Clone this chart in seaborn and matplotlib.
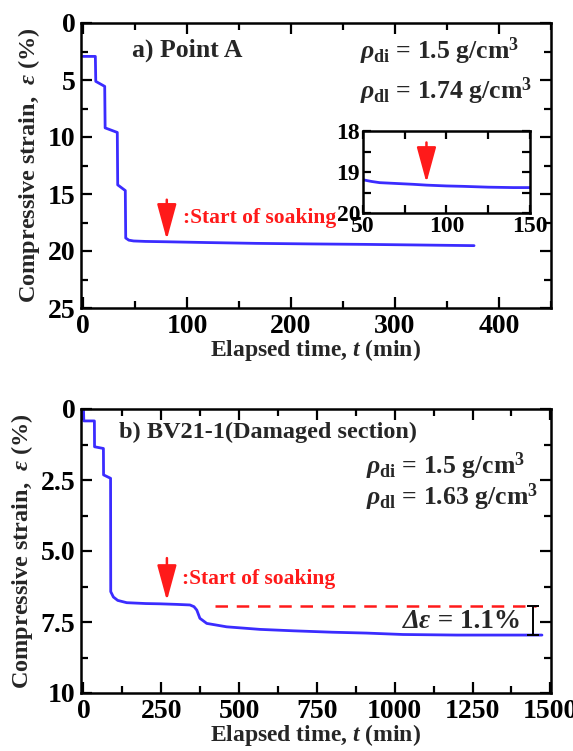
import numpy as np
import pandas as pd
import matplotlib
matplotlib.use("Agg")
import matplotlib.pyplot as plt
from matplotlib.ticker import MultipleLocator, FixedLocator
import seaborn as sns

# ---------------- data ----------------
# Panel a) Point A
time_a = [0, 11.8, 12.2, 20.8, 21.2, 32.9, 33.3, 40.6, 41.0, 44, 48.6, 60, 80, 120, 166, 220, 272, 320, 376]
strain_a = [2.93, 2.93, 5.12, 5.56, 9.2, 9.6, 14.2, 14.7, 18.86, 19.05, 19.12, 19.16, 19.19, 19.26, 19.33, 19.38, 19.42, 19.47, 19.53]

# Inset (zoom of panel a)
time_inset = [50, 55, 60, 70, 80, 88, 100, 110, 125, 140, 150]
strain_inset = [19.19, 19.23, 19.26, 19.28, 19.3, 19.32, 19.34, 19.35, 19.37, 19.38, 19.38]

# Panel b) BV21-1 (Damaged section)
time_b = [0, 1, 35, 35.5, 64, 64.5, 87, 87.5, 96, 110, 139, 200, 246, 300, 342, 355, 364, 374, 396, 460, 567, 674, 800, 909, 1026, 1200, 1473]
strain_b = [0.0, 0.42, 0.42, 1.33, 1.39, 2.32, 2.44, 6.43, 6.62, 6.74, 6.82, 6.85, 6.86, 6.88, 6.9, 6.96, 7.08, 7.37, 7.55, 7.67, 7.76, 7.81, 7.86, 7.89, 7.94, 7.96, 7.96]

# annotation values
soak_a = 80.5            # start of soaking (panel a), min
soak_inset = 88
soak_b = 268             # start of soaking (panel b), min
ref_level_b = 6.92       # dashed reference line level
ref_line_b = [421, 1455]
bracket_t = 1443
final_level_b = 7.96

BLUE = "#3b2cff"
RED = "#ff1a1a"

sns.set_theme(style="white")
plt.rcParams.update({
    "font.family": ["Liberation Serif", "DejaVu Serif"],
    "font.weight": "bold",
    "axes.labelweight": "bold",
    "mathtext.fontset": "custom",
    "mathtext.rm": "Liberation Serif:bold",
    "mathtext.bf": "Liberation Serif:bold",
    "mathtext.it": "Liberation Serif:italic:bold",
    "axes.edgecolor": "black",
    "axes.linewidth": 1.8,
})

fig = plt.figure(figsize=(5.73, 7.51), dpi=100)
W, H = 573, 751

def box(l, t, r, b):
    return [l / W, 1 - b / H, (r - l) / W, (b - t) / H]

ax1 = fig.add_axes(box(81, 23, 551, 308))
ax2 = fig.add_axes(box(81, 409, 551, 693))
axin = fig.add_axes(box(363, 131, 530, 213))

ARROW = dict(arrowstyle="-|>,head_length=1.1,head_width=0.3",
             color=RED, lw=1.8, mutation_scale=20, shrinkA=0, shrinkB=0)

def style(ax, size=20, major=8, minor=5):
    ax.tick_params(which="both", direction="in", top=True, right=True,
                   bottom=True, left=True, colors="black", width=1.6)
    ax.tick_params(which="major", length=major, labelsize=size, pad=4)
    ax.tick_params(which="minor", length=minor)
    for lab in ax.get_xticklabels() + ax.get_yticklabels():
        lab.set_fontweight("bold")
    for s in ax.spines.values():
        s.set_color("black")
        s.set_linewidth(1.8)

# ---------------- panel a ----------------
df_a = pd.DataFrame({"t": time_a, "e": strain_a})
sns.lineplot(data=df_a, x="t", y="e", ax=ax1, color=BLUE, lw=2.0,
             sort=False, estimator=None)
ax1.set_xlim(-2, 450)
ax1.set_ylim(25, 0)
ax1.xaxis.set_major_locator(MultipleLocator(100))
ax1.xaxis.set_minor_locator(MultipleLocator(50))
ax1.yaxis.set_major_locator(MultipleLocator(5))
ax1.yaxis.set_minor_locator(MultipleLocator(2.5))
style(ax1)
ax1.set_xlabel(r"Elapsed time, $\mathit{t}$ (min)", fontsize=17, fontweight="bold", labelpad=-1)
ax1.set_ylabel(r"Compressive strain,  $\varepsilon$ (%)", fontsize=17.5, fontweight="bold", labelpad=4)

ax1.text(47, 2.4, "a) Point A", fontsize=18.5, fontweight="bold", va="center", ha="left")
ax1.text(266, 2.5, r"$\rho_{\rm di}$ = 1.5 g/cm$^{3}$", fontsize=18.5, va="center", ha="left")
ax1.text(266, 6.0, r"$\rho_{\rm dl}$ = 1.74 g/cm$^{3}$", fontsize=18.5, va="center", ha="left")
ax1.annotate("", xy=(soak_a, 19.0), xytext=(soak_a, 15.5), arrowprops=ARROW)
ax1.text(96, 17.1, ":Start of soaking", fontsize=15.5, fontweight="bold",
         color=RED, va="center", ha="left")

# ---------------- inset ----------------
df_in = pd.DataFrame({"t": time_inset, "e": strain_inset})
sns.lineplot(data=df_in, x="t", y="e", ax=axin, color=BLUE, lw=2.0,
             sort=False, estimator=None)
axin.set_xlim(50, 150)
axin.set_ylim(20, 18)
axin.xaxis.set_major_locator(FixedLocator([50, 100, 150]))
axin.xaxis.set_minor_locator(FixedLocator([75, 125]))
axin.yaxis.set_major_locator(FixedLocator([18, 19, 20]))
axin.yaxis.set_minor_locator(FixedLocator([18.5, 19.5]))
style(axin, size=17, major=6, minor=6)
axin.tick_params(which="major", pad=2)
axin.set_xlabel("")
axin.set_ylabel("")
axin.annotate("", xy=(soak_inset, 19.26), xytext=(soak_inset, 18.28), arrowprops=ARROW)

# ---------------- panel b ----------------
df_b = pd.DataFrame({"t": time_b, "e": strain_b})
sns.lineplot(data=df_b, x="t", y="e", ax=ax2, color=BLUE, lw=2.0,
             sort=False, estimator=None)
ax2.set_xlim(-8, 1502)
ax2.set_ylim(10, 0)
ax2.xaxis.set_major_locator(MultipleLocator(250))
ax2.xaxis.set_minor_locator(MultipleLocator(125))
ax2.yaxis.set_major_locator(FixedLocator([0, 2.5, 5.0, 7.5, 10]))
ax2.yaxis.set_minor_locator(FixedLocator([1.25, 3.75, 6.25, 8.75]))
ax2.set_yticklabels(["0", "2.5", "5.0", "7.5", "10"])
style(ax2)
ax2.set_xlabel(r"Elapsed time, $\mathit{t}$ (min)", fontsize=17, fontweight="bold", labelpad=-1)
ax2.set_ylabel(r"Compressive strain,  $\varepsilon$ (%)", fontsize=17.5, fontweight="bold", labelpad=4)

ax2.text(115, 0.83, "b) BV21-1(Damaged section)", fontsize=17.5, fontweight="bold",
         va="center", ha="left")
ax2.text(909, 2.0, r"$\rho_{\rm di}$ = 1.5 g/cm$^{3}$", fontsize=18.5, va="center", ha="left")
ax2.text(909, 3.1, r"$\rho_{\rm dl}$ = 1.63 g/cm$^{3}$", fontsize=18.5, va="center", ha="left")
ax2.annotate("", xy=(soak_b, 6.75), xytext=(soak_b, 5.25), arrowprops=ARROW)
ax2.text(315, 5.97, ":Start of soaking", fontsize=15.5, fontweight="bold",
         color=RED, va="center", ha="left")
ax2.plot(ref_line_b, [ref_level_b, ref_level_b], color=RED, lw=1.8, ls=(0, (5, 3.5)))
ax2.errorbar([bracket_t], [(ref_level_b + final_level_b) / 2],
             yerr=[(final_level_b - ref_level_b) / 2], color="black",
             capsize=4, elinewidth=1.4, capthick=1.4)
ax2.text(1405, 7.5, "Δε = 1.1%", fontsize=19.5, va="center", ha="right")
ax2.text(1405, 7.5, "", fontsize=19.5)
fig.canvas.draw()
# italic Δε followed by upright text
t_rest = ax2.texts[-2]
t_rest.set_text(" = 1.1%")
bb = t_rest.get_window_extent()
inv = ax2.transData.inverted()
x_left = inv.transform((bb.x0, bb.y0))[0]
ax2.text(x_left, 7.5, "Δε", fontsize=19.5, fontstyle="italic", fontweight="bold",
         va="center", ha="right")

fig.savefig("out.png", dpi=100)
